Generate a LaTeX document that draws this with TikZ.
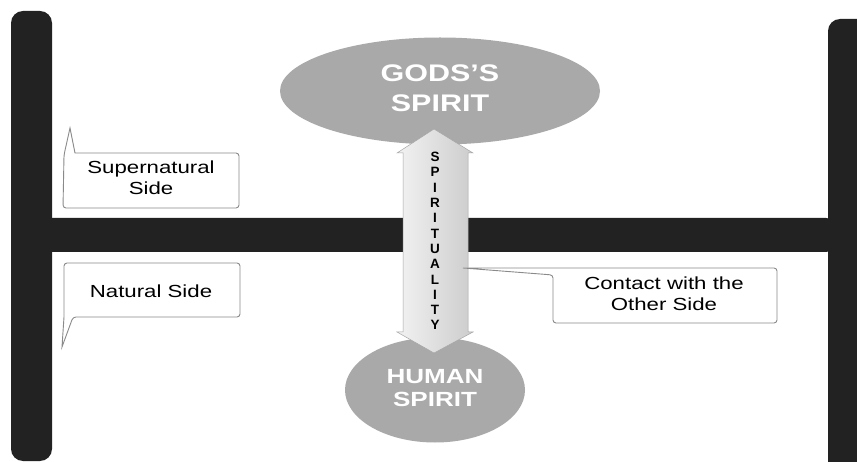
\documentclass[tikz,border=0pt]{standalone}
\usepackage{fontspec}
\setmainfont{Liberation Sans}
\usepackage{graphicx}
\usetikzlibrary{shapes.geometric}
\definecolor{barc}{HTML}{222222}
\definecolor{ovalc}{HTML}{A9A9A9}
\definecolor{linec}{HTML}{8A8A8A}
\newcommand{\sx}[1]{\scalebox{1.27}[1]{#1}}
\begin{document}
\begin{tikzpicture}[x=1pt,y=-1pt,
  bar/.style={fill=barc},
  oval/.style={ellipse, fill=ovalc, inner sep=0pt, text=white},
  ctext/.style={inner sep=0pt, text=black, font=\fontsize{17.5}{21}\selectfont},
  callout/.style={draw=linec, line width=0.9pt, fill=white},
  letter/.style={inner sep=0pt, font=\fontsize{13.5}{15}\selectfont\bfseries},
  arrowfill/.style={draw=gray!70, line width=0.5pt, left color=gray!10, right color=gray!40}
]
\useasboundingbox (0,0) rectangle (857,462);
\clip (0,0) rectangle (857,462);
\fill[white] (0,0) rectangle (857,462);

% bars
\fill[bar, rounded corners=12] (11,11) rectangle (52,461);
\fill[bar, rounded corners=8] (40,218) rectangle (834,252);
\fill[bar, rounded corners=12] (828,19) rectangle (890,490);

% ovals
\node[oval, minimum width=320, minimum height=107,
      font=\fontsize{24}{30}\selectfont\bfseries] (god) at (440,91)
  {\sx{\begin{tabular}{@{}c@{}}GODS’S\\SPIRIT\end{tabular}}};
\node[oval, minimum width=180, minimum height=105,
      font=\fontsize{20.5}{23}\selectfont\bfseries] (human) at (435,390)
  {\sx{\begin{tabular}{@{}c@{}}HUMAN\\SPIRIT\end{tabular}}};

% double arrow
\coordinate (atop) at (434,129);
\coordinate (abot) at (434,353);
\path[arrowfill] (atop) -- (473,153) -- (468,153) -- (468,332) -- (473,332)
  -- (abot) -- (397,332) -- (403,332) -- (403,153) -- (397,153) -- cycle;
\foreach \l [count=\i from 0] in {S,P,I,R,I,T,U,A,L,I,T,Y}
  \node[letter] (sp\i) at (435,{157+15.3*\i}) {\l};

% callout outlines
\coordinate (suptip) at (70,128);
\coordinate (nattip) at (62,347);
\coordinate (contip) at (463,268);
\path[callout] (150,208) [rounded corners=3] -- (63,208) -- (64,155)
  [sharp corners] -- (suptip) -- (75,153) [rounded corners=3] -- (239,153) -- (239,208) -- cycle;
\path[callout] (150,263) [rounded corners=3] -- (240,263) -- (240,317)
  -- (73,317) [sharp corners] -- (nattip) -- (64,317) [rounded corners=3] -- (64,263) -- cycle;
\path[callout] (660,323) [rounded corners=3] -- (553,323) -- (553,275)
  [sharp corners] -- (contip) -- (553,268) [rounded corners=3] -- (777,268) -- (777,323) -- cycle;

% callout texts
\node[ctext] (sup) at (151,180)
  {\sx{\begin{tabular}{@{}c@{}}Supernatural\\Side\end{tabular}}};
\node[ctext] (nat) at (151,291) {\sx{Natural Side}};
\node[ctext] (con) at (664,296)
  {\sx{\begin{tabular}{@{}c@{}}Contact with the\\Other Side\end{tabular}}};
\end{tikzpicture}
\end{document}
